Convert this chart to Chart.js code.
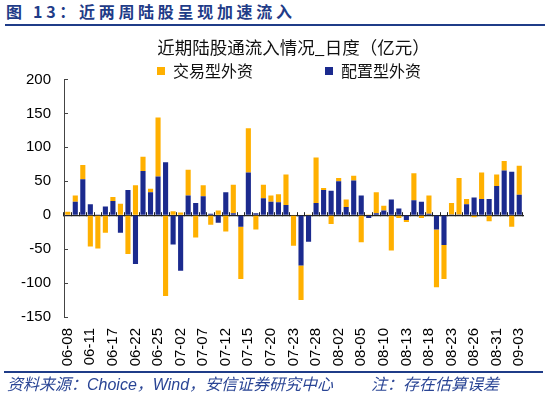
<!DOCTYPE html>
<html>
<head>
<meta charset="utf-8">
<script src="https://cdn.jsdelivr.net/npm/chart.js@4/dist/chart.umd.min.js"></script>
<style>
  body { margin: 0; width: 550px; height: 398px; background: #fff; overflow: hidden; position: relative; }
  #hdr { position: absolute; left: 6px; top: 3px; font: bold 16px/16px "Noto Sans CJK SC", sans-serif; letter-spacing: 3.7px; color: #1F3C88; white-space: nowrap; }
  .rule { position: absolute; background: #1F3C88; }
  #wrap { position: absolute; left: 0; top: 28px; width: 550px; height: 344px; }
  .src { position: absolute; top: 377px; font: italic 16px/16px "Liberation Sans", "Noto Sans CJK SC", sans-serif; color: #2A4595; white-space: nowrap; }
</style>
</head>
<body>
<div id="hdr">图 13：近两周陆股呈现加速流入</div>
<div class="rule" style="left:5px;top:24px;width:540px;height:2px;"></div>
<div id="wrap"><canvas id="chart" width="550" height="344"></canvas></div>
<div class="rule" style="left:4px;top:371px;width:539px;height:2px;"></div>
<div class="src" style="left:7px;">资料来源：Choice，Wind，安信证券研究中心</div>
<div class="src" style="left:371px;">注：存在估算误差</div>
<script>
// 2021 trading days shown on the chart
let dates = ['06-08', '06-09', '06-10', '06-11', '06-15', '06-16', '06-17', '06-18', '06-21', '06-22',
    '06-23', '06-24', '06-25', '06-28', '06-30', '07-02', '07-05', '07-06', '07-07', '07-08',
    '07-09', '07-12', '07-13', '07-14', '07-15', '07-16', '07-19', '07-20', '07-21', '07-22',
    '07-23', '07-26', '07-27', '07-28', '07-29', '07-30', '08-02', '08-03', '08-04', '08-05',
    '08-06', '08-09', '08-10', '08-11', '08-12', '08-13', '08-16', '08-17', '08-18', '08-19',
    '08-20', '08-23', '08-24', '08-25', '08-26', '08-27', '08-30', '08-31', '09-01', '09-02', '09-03'];

// 配置型外资 (亿元)
let allocation = [-1, 20, 53, 16, 1, 13, 21, -26, 37, -72,
    65, 34, 57, 78, -43, -82, 29, 18, 28, 2,
    -11, 34, 3, -17, 63, 3, 25, 20, 19, 15,
    0, -74, -39, 18, 37, 36, 50, 12, 51, 29,
    -4, 3, 7, 23, 10, -7, 22, 20, 2, -21,
    -44, 1, 1, 16, 26, 24, 24, 43, 66, 64, 30];

// 交易型外资 (亿元)
let trading = [5, 9, 21, -46, -49, -26, 6, 17, -57, 44,
    21, 5, 87, -119, 6, 4, 38, -33, 16, -14,
    7, -24, 42, -77, 65, -21, 20, 9, 12, 45,
    -45, -51, 1, 67, 3, -13, 5, 11, 7, -40,
    1, 31, 7, -52, -4, -3, 40, -4, 27, -85,
    -50, 17, 54, 8, -3, 39, -9, 17, 14, -17, 43];

let yTicks = { min: -150, max: 200, step: 50 };
let labelEvery = 3;

let cjk = '"Noto Sans CJK SC", sans-serif';
let latin = '"Liberation Sans", Arial, sans-serif';

// Excel places legend/title tighter than Chart.js does, move them a bit
const nudgeHeader = {
    id: 'nudgeHeader',
    afterLayout(chart) {
        chart.titleBlock.top += 2.75;
        chart.titleBlock.bottom += 2.75;
        chart.legend.top += 9.5;
        chart.legend.bottom += 9.5;
        chart.legend.left -= 4.5;
        chart.legend.right -= 4.5;
    }
};

new Chart(document.getElementById('chart'), {
    type: 'bar',
    data: {
        labels: dates,
        datasets: [
            {
                label: '配置型外资',
                data: allocation,
                backgroundColor: '#1B2A8E',
                barPercentage: 0.68,
                categoryPercentage: 1
            },
            {
                label: '交易型外资',
                data: trading,
                backgroundColor: '#FFB000',
                barPercentage: 0.68,
                categoryPercentage: 1
            }
        ]
    },
    options: {
        responsive: false,
        animation: false,
        layout: { padding: { top: 0, right: 27, bottom: 0, left: 0 } },
        plugins: {
            tooltip: { enabled: false },
            title: {
                display: true,
                fullSize: false,
                text: '近期陆股通流入情况_日度（亿元）',
                color: '#111',
                font: { family: cjk, size: 17.5, weight: 'normal', lineHeight: 1 },
                padding: { top: 8, bottom: 0 }
            },
            legend: {
                display: true,
                fullSize: false,
                reverse: true,
                labels: {
                    boxWidth: 8,
                    boxHeight: 8,
                    padding: 0,
                    color: '#111',
                    font: { family: cjk, size: 16 },
                    generateLabels: (chart) => {
                        let items = Chart.defaults.plugins.legend.labels.generateLabels(chart);
                        items.forEach(e => {
                            e.lineWidth = 0;
                            if (e.datasetIndex === 1) e.text = e.text + '\u3000\u3000\u3000\u3000\u2002';
                        });
                        return items;
                    }
                }
            }
        },
        scales: {
            x: {
                stacked: true,
                offset: true,
                border: { display: false },
                grid: { display: false, drawTicks: false },
                ticks: {
                    autoSkip: false,
                    minRotation: 90,
                    maxRotation: 90,
                    padding: 11,
                    color: '#000',
                    font: { family: latin, size: 15 },
                    callback: function (val, index) {
                        return index % labelEvery === 0 ? this.getLabelForValue(val) : '';
                    }
                },
                afterFit: (scale) => { scale.height = 55; }
            },
            // category axis drawn through zero, with its tick marks
            x2: {
                type: 'category',
                position: { y: 0 },
                offset: true,
                border: { display: true, color: '#222', width: 1.2 },
                grid: { display: true, offset: true, drawOnChartArea: false, drawTicks: true, tickLength: -4, color: '#222', tickWidth: 1 },
                ticks: { display: false, autoSkip: false }
            },
            y: {
                stacked: true,
                min: yTicks.min,
                max: yTicks.max,
                border: { display: true, color: '#444', width: 1 },
                grid: { display: true, drawOnChartArea: false, drawTicks: true, tickLength: -4, color: '#444' },
                ticks: {
                    stepSize: yTicks.step,
                    padding: 17,
                    color: '#000',
                    font: { family: latin, size: 15 }
                },
                afterFit: (scale) => { scale.width = 64; }
            }
        }
    },
    plugins: [nudgeHeader]
});
</script>
</body>
</html>
